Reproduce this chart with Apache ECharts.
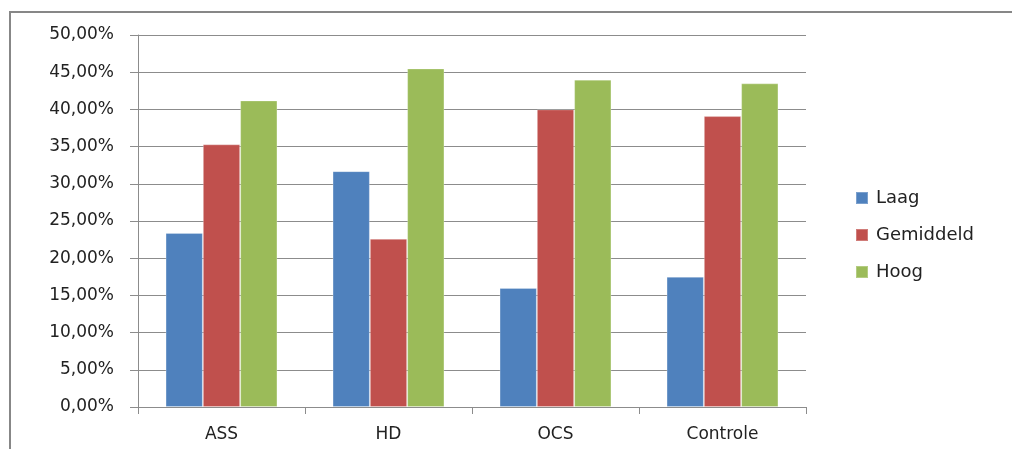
<!DOCTYPE html>
<html>
<head>
<meta charset="utf-8">
<script src="https://cdn.jsdelivr.net/npm/echarts@6/dist/echarts.min.js"></script>
<style>
  html, body { margin: 0; padding: 0; background: #fff; }
  #chart { width: 1012px; height: 449px; }
</style>
</head>
<body>
<div id="chart"></div>
<script>
// Laag / Gemiddeld / Hoog per groep (percentages)
var categories = ['ASS', 'HD', 'OCS', 'Controle'];
var laag = [23.4, 31.7, 16.0, 17.5];
var gemiddeld = [35.3, 22.6, 40.0, 39.1];
var hoog = [41.2, 45.5, 44.0, 43.5];
var seriesNames = ['Laag', 'Gemiddeld', 'Hoog'];

var font = 'DejaVu Sans';
var gridGrey = '#8c8c8c';

function pct(v) {
    return v.toFixed(2).replace('.', ',') + '%';
}

function bar(name, data, color) {
    return {
        name: name,
        type: 'bar',
        data: data,
        barGap: '0%',
        barCategoryGap: '33%',
        itemStyle: { color: color, borderColor: 'rgba(255,255,255,0.25)', borderWidth: 1 }
    };
}

var chart = echarts.init(document.getElementById('chart'));
chart.setOption({
    animation: false,
    backgroundColor: '#fff',
    graphic: [{
        type: 'rect',
        shape: { x: 10, y: 12, width: 1020, height: 460 },
        style: { fill: 'none', stroke: '#878787', lineWidth: 2 }
    }],
    grid: { left: 138, right: 206, top: 35, bottom: 42 },
    legend: {
        orient: 'vertical',
        left: 850,
        top: 184,
        itemWidth: 12,
        itemHeight: 12,
        itemGap: 19,
        icon: 'rect',
        data: seriesNames,
        textStyle: { fontFamily: font, fontSize: 18, color: '#222', padding: [0, 0, 0, 3] }
    },
    xAxis: {
        type: 'category',
        data: categories,
        axisLine: { lineStyle: { color: gridGrey } },
        axisTick: { show: true, length: 7, lineStyle: { color: gridGrey } },
        axisLabel: { fontFamily: font, fontSize: 17, color: '#222', margin: 19 }
    },
    yAxis: {
        type: 'value',
        min: 0,
        max: 50,
        interval: 5,
        axisLine: { show: true, lineStyle: { color: gridGrey } },
        axisTick: { show: true, length: 8, lineStyle: { color: gridGrey } },
        splitLine: { lineStyle: { color: gridGrey } },
        axisLabel: { fontFamily: font, fontSize: 17, color: '#222', margin: 24, formatter: pct }
    },
    series: [
        bar(seriesNames[0], laag, '#4F81BD'),
        bar(seriesNames[1], gemiddeld, '#C0504D'),
        bar(seriesNames[2], hoog, '#9BBB59')
    ]
});
</script>
</body>
</html>
